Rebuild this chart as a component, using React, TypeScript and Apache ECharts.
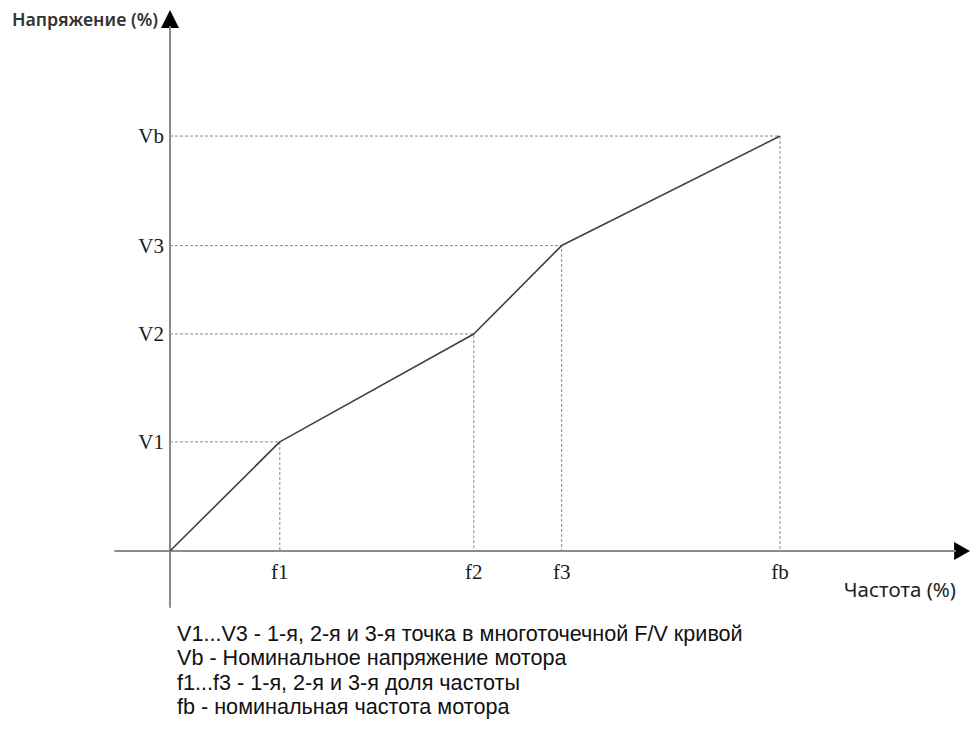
import { useEffect, useRef } from "react";
import * as echarts from "echarts";

// Frequency (% of fb) and voltage (% of Vb) of the multipoint F/V curve
const frequencies = [0, 18, 49.8, 64.2, 100];
const voltages = [0, 26.3, 52.3, 73.6, 100];
const freqLabels = ["", "f1", "f2", "f3", "fb"];
const voltLabels = ["", "V1", "V2", "V3", "Vb"];
const yAxisName = "Напряжение (%)";
const xAxisName = "Частота (%)";
const notes = [
  "V1...V3 - 1-я, 2-я и 3-я точка в многоточечной F/V кривой",
  "Vb - Номинальное напряжение мотора",
  "f1...f3 - 1-я, 2-я и 3-я доля частоты",
  "fb - номинальная частота мотора",
];

const X_MIN = -9;
const X_MAX = 128.7;
const Y_MIN = -13.5;
const Y_MAX = 126.3;

const SERIF = "'Liberation Serif', 'DejaVu Serif', serif";
const SANS = "'Noto Sans', 'Open Sans', sans-serif";
const NOTE_SANS = "'Liberation Sans', 'Noto Sans', sans-serif";

export default function App() {
  const ref = useRef<HTMLDivElement>(null);
  useEffect(() => {
    if (!ref.current) return;
    const chart = echarts.init(ref.current, undefined, { renderer: "svg" });

    const guideSeries: any[] = [];
    for (let i = 1; i < frequencies.length; i++) {
      const f = frequencies[i];
      const v = voltages[i];
      guideSeries.push({
        type: "line",
        z: 1,
        symbol: "none",
        silent: true,
        lineStyle: { color: "#8a8a8a", width: 1, type: [3, 2] },
        data: [
          {
            value: [0, v],
            symbol: "circle",
            symbolSize: 0.01,
            label: {
              show: true,
              position: "left",
              distance: 6,
              formatter: voltLabels[i],
              fontFamily: SERIF,
              fontSize: 21,
              color: "#1a1a1a",
            },
          },
          { value: [f, v] },
          {
            value: [f, 0],
            symbol: "circle",
            symbolSize: 0.01,
            label: {
              show: true,
              position: "bottom",
              distance: 11,
              formatter: freqLabels[i],
              fontFamily: SERIF,
              fontSize: 21,
              color: "#1a1a1a",
            },
          },
        ],
      });
    }

    const axisCommon = {
      type: "value" as const,
      axisLine: { show: true, onZero: true, lineStyle: { color: "#8c8c8c", width: 2 } },
      axisTick: { show: false },
      axisLabel: { show: false },
      splitLine: { show: false },
    };

    chart.setOption({
      animation: false,
      grid: { left: 115.1, right: 14.9, top: 26.9, bottom: 124 },
      xAxis: { ...axisCommon, min: X_MIN, max: X_MAX },
      yAxis: { ...axisCommon, min: Y_MIN, max: Y_MAX },
      series: [
        ...guideSeries,
        {
          type: "line",
          z: 3,
          symbol: "none",
          silent: true,
          lineStyle: { color: "#404040", width: 1.6 },
          data: frequencies.map((f, i) => [f, voltages[i]]),
        },
      ],
    });

    const pX = chart.convertToPixel({ gridIndex: 0 }, [X_MAX, 0]) as number[];
    const pY = chart.convertToPixel({ gridIndex: 0 }, [0, Y_MAX]) as number[];

    const noteTexts = notes.map((t, i) => ({
      type: "text",
      x: 177,
      y: 633 + i * 24.5,
      style: {
        text: t,
        fill: "#111",
        font: `21.6px ${NOTE_SANS}`,
        lineHeight: 22,
        align: "left",
        verticalAlign: "middle",
      },
    }));

    chart.setOption({
      graphic: [
        {
          type: "polygon",
          shape: {
            points: [
              [pX[0] - 1, pX[1] - 9],
              [pX[0] + 15, pX[1]],
              [pX[0] - 1, pX[1] + 9],
            ],
          },
          style: { fill: "#000" },
        },
        {
          type: "polygon",
          shape: {
            points: [
              [pY[0] - 9, pY[1] + 1],
              [pY[0], pY[1] - 17],
              [pY[0] + 9, pY[1] + 1],
            ],
          },
          style: { fill: "#000" },
        },
        {
          type: "text",
          x: pY[0] - 12,
          y: pY[1] - 8,
          style: {
            text: yAxisName,
            fill: "#333",
            font: `600 17.8px ${SANS}`,
            align: "right",
            verticalAlign: "middle",
          },
        },
        {
          type: "text",
          x: 956,
          y: 589,
          style: {
            text: xAxisName,
            fill: "#222",
            font: `20.5px ${SANS}`,
            align: "right",
            verticalAlign: "middle",
          },
        },
        ...noteTexts,
      ],
    });

    return () => chart.dispose();
  }, []);

  return (
    <div
      ref={ref}
      style={{ position: "absolute", left: 0, top: 0, width: 970, height: 731, background: "#fff" }}
    />
  );
}
